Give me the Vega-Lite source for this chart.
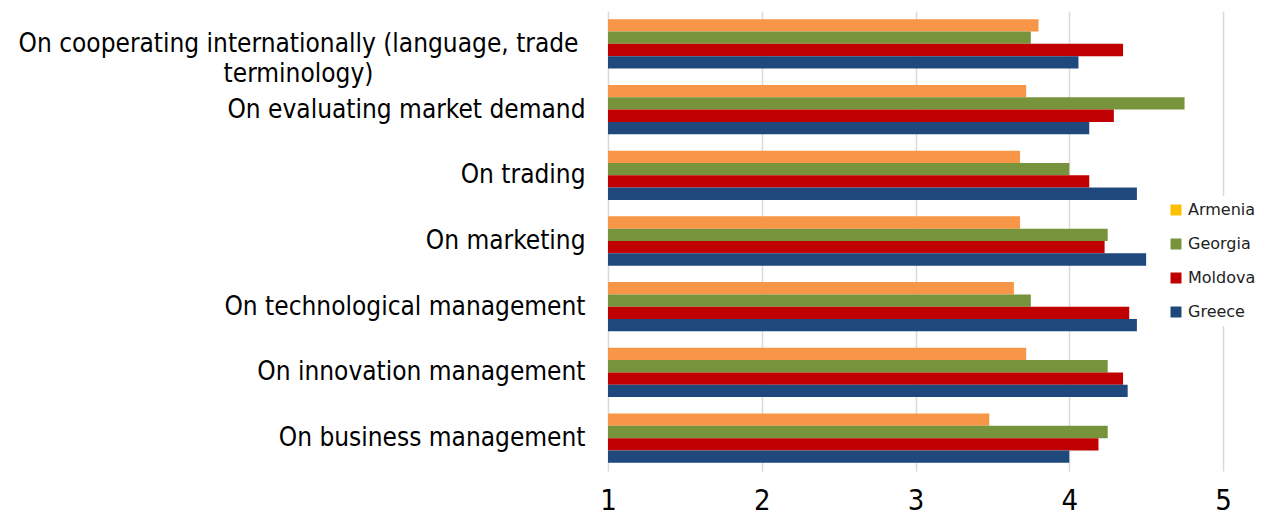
{
  "$schema": "https://vega.github.io/schema/vega-lite/v6.json",
  "width": 615,
  "height": 460,
  "autosize": {"type": "none"},
  "padding": {"left": 608, "top": 11, "right": 42, "bottom": 44},
  "background": "white",
  "config": {"view": {"stroke": null}, "font": "DejaVu Sans Condensed"},
  "data": {"values": [
    {"category": "On cooperating internationally (language, trade terminology)", "country": "Armenia", "value": 3.80},
    {"category": "On cooperating internationally (language, trade terminology)", "country": "Georgia", "value": 3.75},
    {"category": "On cooperating internationally (language, trade terminology)", "country": "Moldova", "value": 4.35},
    {"category": "On cooperating internationally (language, trade terminology)", "country": "Greece", "value": 4.06},
    {"category": "On evaluating market demand", "country": "Armenia", "value": 3.72},
    {"category": "On evaluating market demand", "country": "Georgia", "value": 4.75},
    {"category": "On evaluating market demand", "country": "Moldova", "value": 4.29},
    {"category": "On evaluating market demand", "country": "Greece", "value": 4.13},
    {"category": "On trading", "country": "Armenia", "value": 3.68},
    {"category": "On trading", "country": "Georgia", "value": 4.00},
    {"category": "On trading", "country": "Moldova", "value": 4.13},
    {"category": "On trading", "country": "Greece", "value": 4.44},
    {"category": "On marketing", "country": "Armenia", "value": 3.68},
    {"category": "On marketing", "country": "Georgia", "value": 4.25},
    {"category": "On marketing", "country": "Moldova", "value": 4.23},
    {"category": "On marketing", "country": "Greece", "value": 4.50},
    {"category": "On technological management", "country": "Armenia", "value": 3.64},
    {"category": "On technological management", "country": "Georgia", "value": 3.75},
    {"category": "On technological management", "country": "Moldova", "value": 4.39},
    {"category": "On technological management", "country": "Greece", "value": 4.44},
    {"category": "On innovation management", "country": "Armenia", "value": 3.72},
    {"category": "On innovation management", "country": "Georgia", "value": 4.25},
    {"category": "On innovation management", "country": "Moldova", "value": 4.35},
    {"category": "On innovation management", "country": "Greece", "value": 4.38},
    {"category": "On business management", "country": "Armenia", "value": 3.48},
    {"category": "On business management", "country": "Georgia", "value": 4.25},
    {"category": "On business management", "country": "Moldova", "value": 4.19},
    {"category": "On business management", "country": "Greece", "value": 4.00}
  ]},
  "mark": {"type": "bar"},
  "encoding": {
    "y": {
      "field": "category", "type": "nominal",
      "sort": ["On cooperating internationally (language, trade terminology)", "On evaluating market demand", "On trading", "On marketing", "On technological management", "On innovation management", "On business management"],
      "scale": {"paddingInner": 0.25, "paddingOuter": 0.125},
      "axis": {
        "title": null, "domain": false, "ticks": false, "labelFontSize": 26, "labelColor": "#000000",
        "labelPadding": {"condition": {"test": "datum.value == 'On cooperating internationally (language, trade terminology)'", "value": 310}, "value": 23},
        "labelAlign": {"condition": {"test": "datum.value == 'On cooperating internationally (language, trade terminology)'", "value": "center"}, "value": "right"},
        "labelLimit": 800, "labelLineHeight": 30,
        "labelExpr": "datum.value == 'On cooperating internationally (language, trade terminology)' ? ['On cooperating internationally (language, trade', 'terminology)'] : datum.value"
      }
    },
    "yOffset": {"field": "country", "type": "nominal", "sort": ["Armenia", "Georgia", "Moldova", "Greece"]},
    "x": {
      "field": "value", "type": "quantitative",
      "scale": {"domain": [1, 5], "zero": false, "nice": false},
      "axis": {
        "title": null, "values": [1, 2, 3, 4, 5], "format": "d", "grid": true, "gridColor": "#D9D9D9", "gridWidth": 1.5,
        "domain": false, "ticks": false, "labelFlush": false, "labelFontSize": 29, "labelBaseline": "middle", "labelPadding": 29, "labelColor": "#000000"
      }
    },
    "x2": {"datum": 1},
    "color": {
      "field": "country", "type": "nominal",
      "condition": {"test": "datum.country === 'Armenia'", "value": "#F79646"},
      "scale": {"domain": ["Armenia", "Georgia", "Moldova", "Greece"], "range": ["#FFC000", "#77933C", "#C00000", "#1F497D"]},
      "legend": {
        "title": null, "orient": "none", "legendX": 554, "legendY": 185,
        "symbolType": "square", "symbolSize": 121, "symbolStrokeWidth": 0,
        "labelFont": "DejaVu Sans", "labelFontSize": 16, "labelColor": "#222222", "rowPadding": 18, "fillColor": "white", "padding": 6
      }
    }
  }
}
